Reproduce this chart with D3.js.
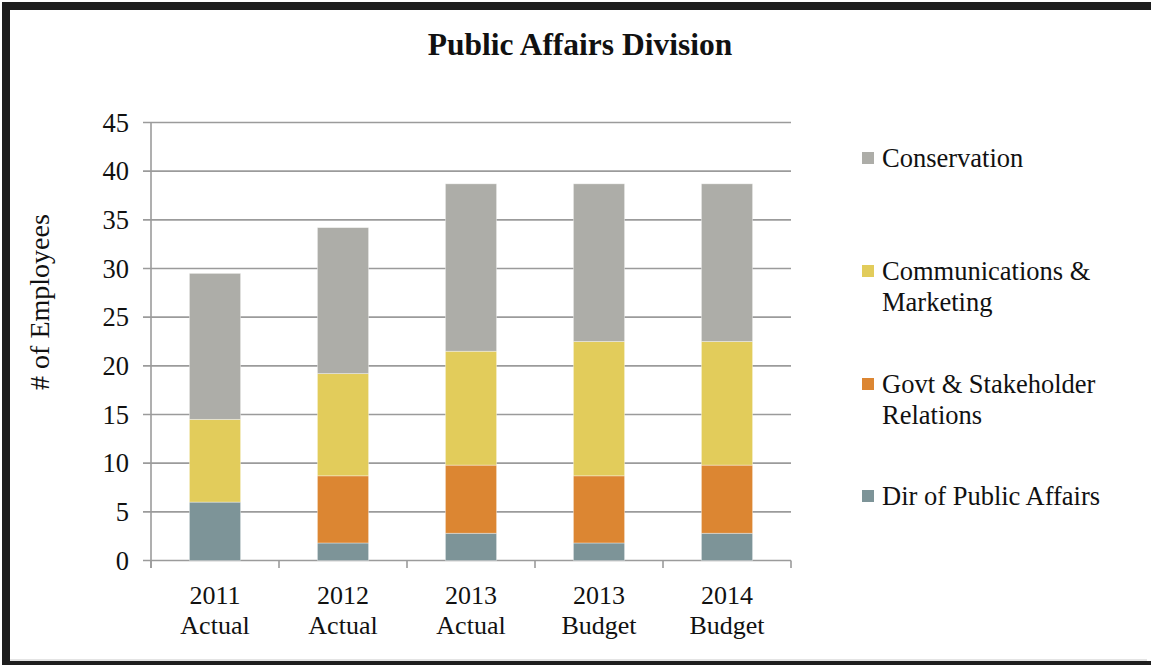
<!DOCTYPE html>
<html>
<head>
<meta charset="utf-8">
<script src="https://cdn.jsdelivr.net/npm/d3@7"></script>
<style>
  html, body { margin: 0; padding: 0; background: #fff; }
  svg { display: block; }
  text { font-family: "Liberation Serif", "Times New Roman", serif; fill: #111; }
</style>
</head>
<body>
<svg id="chart" width="1151" height="665"></svg>
<script>
// Headcount by unit, stacked bottom-up
const categories = [["2011", "Actual"], ["2012", "Actual"], ["2013", "Actual"], ["2013", "Budget"], ["2014", "Budget"]];
const seriesNames = ["Dir of Public Affairs", "Govt & Stakeholder Relations", "Communications & Marketing", "Conservation"];
const dirPublicAffairs = [6, 1.8, 2.8, 1.8, 2.8];
const govtStakeholder = [0, 6.9, 7.0, 6.9, 7.0];
const commMarketing = [8.5, 10.5, 11.7, 13.8, 12.7];
const conservation = [15, 15, 17.2, 16.2, 16.2];
const yTicks = [0, 5, 10, 15, 20, 25, 30, 35, 40, 45];
const colors = ["#7d9498", "#dc8632", "#e2cc5b", "#adada8"];
// legend lines, listed top to bottom
const legendLines = [
  ["Conservation"],
  ["Communications &", "Marketing"],
  ["Govt & Stakeholder", "Relations"],
  ["Dir of Public Affairs"]
];

const svg = d3.select("#chart");
const W = 1151, H = 665;

// outer frame
svg.append("rect").attr("x", 6).attr("y", 6).attr("width", W).attr("height", H - 6)
  .attr("fill", "none").attr("stroke", "#1e1e1e").attr("stroke-width", 8);
svg.append("line").attr("x1", 10).attr("x2", 1147).attr("y1", 660).attr("y2", 660)
  .attr("stroke", "#c8c8c8").attr("stroke-width", 1);

// title
svg.append("text").attr("x", 580).attr("y", 55).attr("text-anchor", "middle")
  .style("font-size", "31.5px").style("font-weight", "bold")
  .text("Public Affairs Division");

const rows = categories.map((c, i) => ({
  key: i,
  "Dir of Public Affairs": dirPublicAffairs[i],
  "Govt & Stakeholder Relations": govtStakeholder[i],
  "Communications & Marketing": commMarketing[i],
  "Conservation": conservation[i]
}));
const stacked = d3.stack().keys(seriesNames)(rows);

const x = d3.scaleBand().domain(categories.map((c, i) => i)).range([151, 791])
  .paddingInner(0.6).paddingOuter(0.3);
const y = d3.scaleLinear().domain([0, 45]).range([560.5, 122.5]);

// horizontal gridlines, extending left as tick marks
svg.append("g").selectAll("line").data(yTicks).join("line")
  .attr("x1", 143).attr("x2", 791)
  .attr("y1", d => y(d)).attr("y2", d => y(d))
  .attr("stroke", "#9b9b9b").attr("stroke-width", 1.6);

// y axis line
svg.append("line").attr("x1", 151).attr("x2", 151).attr("y1", y(45)).attr("y2", 568)
  .attr("stroke", "#9b9b9b").attr("stroke-width", 1.6);

// x tick marks at band boundaries
const bounds = d3.range(categories.length + 1).map(i => 151 + i * x.step());
svg.append("g").selectAll("line").data(bounds).join("line")
  .attr("x1", d => d).attr("x2", d => d).attr("y1", y(0)).attr("y2", 568)
  .attr("stroke", "#9b9b9b").attr("stroke-width", 1.6);

// y tick labels
svg.append("g").selectAll("text").data(yTicks).join("text")
  .attr("x", 129).attr("y", d => y(d) + 9).attr("text-anchor", "end")
  .style("font-size", "26.5px").text(d => d);

// y axis title
svg.append("text").attr("transform", "translate(49,302) rotate(-90)")
  .attr("text-anchor", "middle").style("font-size", "28px").text("# of Employees");

// bars
svg.append("g").selectAll("g").data(stacked).join("g")
  .attr("fill", (d, i) => colors[i])
  .selectAll("rect").data(d => d).join("rect")
  .attr("x", d => x(d.data.key)).attr("width", x.bandwidth())
  .attr("y", d => y(d[1])).attr("height", d => y(d[0]) - y(d[1]))
  .attr("stroke", "#ffffff").attr("stroke-opacity", 0.45).attr("stroke-width", 0.8);

// x category labels
const xl = svg.append("g").selectAll("text").data(categories).join("text")
  .attr("text-anchor", "middle").style("font-size", "26px");
xl.append("tspan").attr("x", (d, i) => x(i) + x.bandwidth() / 2).attr("y", 604).text(d => d[0]);
xl.append("tspan").attr("x", (d, i) => x(i) + x.bandwidth() / 2).attr("y", 634).text(d => d[1]);

// legend
const legendColors = colors.slice().reverse();
const legendCenters = [158, 271, 384, 496];
const lg = svg.append("g").selectAll("g").data(legendLines).join("g");
lg.append("rect").attr("x", 862).attr("y", (d, i) => legendCenters[i] - 6)
  .attr("width", 12).attr("height", 12).attr("fill", (d, i) => legendColors[i]);
lg.append("text").style("font-size", "26.5px")
  .each(function (d, i) {
    const t = d3.select(this);
    d.forEach((line, j) => {
      t.append("tspan").attr("x", 882).attr("y", legendCenters[i] + 9 + j * 31).text(line);
    });
  });
</script>
</body>
</html>
